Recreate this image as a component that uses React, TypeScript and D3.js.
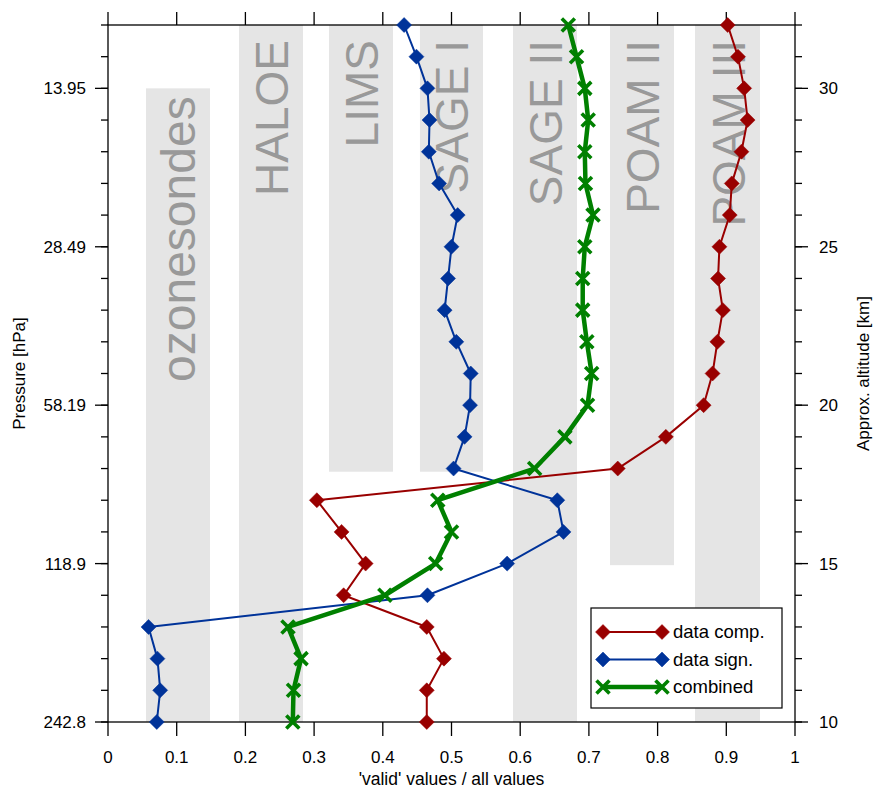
import React from "react";
import * as d3 from "d3";

// Altitude levels [km] and ratio of valid values per level
const altitudes = [32, 31, 30, 29, 28, 27, 26, 25, 24, 23, 22, 21, 20, 19, 18, 17, 16, 15, 14, 13, 12, 11, 10];
const dataComp = [0.902, 0.917, 0.926, 0.931, 0.922, 0.908, 0.905, 0.89, 0.888, 0.895, 0.887, 0.88, 0.867, 0.812, 0.742, 0.304, 0.34, 0.375, 0.343, 0.464, 0.489, 0.464, 0.464];
const dataSign = [0.431, 0.449, 0.465, 0.468, 0.467, 0.482, 0.509, 0.5, 0.495, 0.49, 0.507, 0.528, 0.527, 0.519, 0.503, 0.654, 0.663, 0.581, 0.465, 0.059, 0.072, 0.076, 0.071];
const combined = [0.67, 0.682, 0.694, 0.699, 0.694, 0.695, 0.706, 0.694, 0.691, 0.691, 0.697, 0.704, 0.698, 0.665, 0.621, 0.48, 0.5, 0.477, 0.403, 0.262, 0.281, 0.27, 0.269];

// Instruments: horizontal extent (ratio units) and altitude coverage [km]
const instruments = ["ozonesondes", "HALOE", "LIMS", "SAGE I", "SAGE II", "POAM II", "POAM III"];
const instrumentX0 = [0.0553, 0.1907, 0.3217, 0.4541, 0.5895, 0.7307, 0.8544];
const instrumentX1 = [0.1485, 0.2838, 0.4148, 0.5458, 0.6827, 0.8239, 0.9491];
const instrumentTop = [30, 32, 32, 32, 32, 32, 32];
const instrumentBottom = [10, 10, 17.9, 17.9, 10, 14.95, 10];

// Axis ticks
const altTicks = [10, 15, 20, 25, 30];
const pressureLabels = ["242.8", "118.9", "58.19", "28.49", "13.95"];
const xTicks = [0, 0.1, 0.2, 0.3, 0.4, 0.5, 0.6, 0.7, 0.8, 0.9, 1];
const xTickLabels = ["0", "0.1", "0.2", "0.3", "0.4", "0.5", "0.6", "0.7", "0.8", "0.9", "1"];

const seriesNames = ["data comp.", "data sign.", "combined"];
const seriesColors = ["#990000", "#003399", "#008000"];

const W = 873;
const H = 789;
const left = 108;
const right = 795;
const top = 25;
const bottom = 722;
const FONT = "'Liberation Sans', Arial, Helvetica, sans-serif";

const x = d3.scaleLinear().domain([0, 1]).range([left, right]);
const y = d3.scaleLinear().domain([10, 32]).range([bottom, top]);

function Diamond({ cx, cy, color }: { cx: number; cy: number; color: string }) {
  const r = 7.5;
  return (
    <path
      d={`M${cx},${cy - r}L${cx + r},${cy}L${cx},${cy + r}L${cx - r},${cy}Z`}
      fill={color}
      stroke={color}
      strokeWidth={0.5}
    />
  );
}

function Cross({ cx, cy, color }: { cx: number; cy: number; color: string }) {
  const r = 6.5;
  return (
    <path
      d={`M${cx - r},${cy - r}L${cx + r},${cy + r}M${cx - r},${cy + r}L${cx + r},${cy - r}`}
      stroke={color}
      strokeWidth={3.6}
      fill="none"
    />
  );
}

export default function App() {
  const series = [dataComp, dataSign, combined];
  const line = d3
    .line<number>()
    .x((d) => x(d))
    .y((_, i) => y(altitudes[i]));

  const minorAlt = d3.range(10, 33, 1);

  return (
    <svg
      width={W}
      height={H}
      style={{ position: "absolute", left: 0, top: 0, background: "#fff" }}
      fontFamily={FONT}
    >
      <rect x={0} y={0} width={W} height={H} fill="#fff" />

      {/* instrument coverage bands */}
      {instruments.map((name, i) => (
        <rect
          key={"band" + name}
          x={x(instrumentX0[i])}
          y={y(instrumentTop[i])}
          width={x(instrumentX1[i]) - x(instrumentX0[i])}
          height={y(instrumentBottom[i]) - y(instrumentTop[i])}
          fill="#e5e5e5"
        />
      ))}
      {instruments.map((name, i) => {
        const cx = (x(instrumentX0[i]) + x(instrumentX1[i])) / 2;
        return (
          <text
            key={"lbl" + name}
            transform={`translate(${cx + 17},${y(instrumentTop[i]) + (i === 0 ? 8 : 15)}) rotate(-90)`}
            textAnchor="end"
            fontSize={i === 0 ? 48 : 46}
            fill="#999999"
          >
            {name}
          </text>
        );
      })}

      {/* frame */}
      <rect x={left} y={top} width={right - left} height={bottom - top} fill="none" stroke="#000" strokeWidth={1.3} />

      {/* x ticks, top and bottom */}
      {xTicks.map((t, i) => (
        <g key={"xt" + i}>
          <line x1={x(t)} x2={x(t)} y1={bottom} y2={bottom + 14} stroke="#000" strokeWidth={1.3} />
          <line x1={x(t)} x2={x(t)} y1={top} y2={top - 13} stroke="#000" strokeWidth={1.3} />
          <text x={x(t)} y={bottom + 41} textAnchor="middle" fontSize={17} fill="#000">
            {xTickLabels[i]}
          </text>
        </g>
      ))}

      {/* minor altitude ticks */}
      {minorAlt.map((a) => (
        <g key={"ma" + a}>
          <line x1={left - 7} x2={left} y1={y(a)} y2={y(a)} stroke="#000" strokeWidth={1.3} />
          <line x1={right} x2={right + 7} y1={y(a)} y2={y(a)} stroke="#000" strokeWidth={1.3} />
        </g>
      ))}

      {/* major altitude ticks with pressure and altitude labels */}
      {altTicks.map((a, i) => (
        <g key={"at" + a}>
          <line x1={left - 13} x2={left} y1={y(a)} y2={y(a)} stroke="#000" strokeWidth={1.3} />
          <line x1={right} x2={right + 13} y1={y(a)} y2={y(a)} stroke="#000" strokeWidth={1.3} />
          <text x={left - 22} y={y(a)} dy="0.35em" textAnchor="end" fontSize={17} fill="#000">
            {pressureLabels[i]}
          </text>
          <text x={right + 24} y={y(a)} dy="0.35em" textAnchor="start" fontSize={17} fill="#000">
            {a}
          </text>
        </g>
      ))}

      {/* axis titles */}
      <text x={(left + right) / 2} y={785} textAnchor="middle" fontSize={17.5} fill="#000">
        'valid' values / all values
      </text>
      <text transform={`translate(25,${(top + bottom) / 2}) rotate(-90)`} textAnchor="middle" fontSize={17} fill="#000">
        Pressure [hPa]
      </text>
      <text transform={`translate(869,${(top + bottom) / 2}) rotate(-90)`} textAnchor="middle" fontSize={17} fill="#000">
        Approx. altitude [km]
      </text>

      {/* series lines */}
      {series.map((s, k) => (
        <path
          key={"line" + k}
          d={line(s) || ""}
          fill="none"
          stroke={seriesColors[k]}
          strokeWidth={k === 2 ? 4.5 : 2}
          strokeLinejoin="round"
        />
      ))}
      {series.map((s, k) =>
        s.map((v, i) =>
          k === 2 ? (
            <Cross key={`m${k}-${i}`} cx={x(v)} cy={y(altitudes[i])} color={seriesColors[k]} />
          ) : (
            <Diamond key={`m${k}-${i}`} cx={x(v)} cy={y(altitudes[i])} color={seriesColors[k]} />
          )
        )
      )}

      {/* legend */}
      <g>
        <rect x={591} y={608} width={191} height={100} fill="#fff" stroke="#000" strokeWidth={1.2} />
        {seriesNames.map((name, k) => {
          const ly = 632 + k * 27.5;
          return (
            <g key={"leg" + k}>
              <line x1={603} x2={662} y1={ly} y2={ly} stroke={seriesColors[k]} strokeWidth={k === 2 ? 4.5 : 2} />
              {k === 2 ? (
                <>
                  <Cross cx={603} cy={ly} color={seriesColors[k]} />
                  <Cross cx={662} cy={ly} color={seriesColors[k]} />
                </>
              ) : (
                <>
                  <Diamond cx={603} cy={ly} color={seriesColors[k]} />
                  <Diamond cx={662} cy={ly} color={seriesColors[k]} />
                </>
              )}
              <text x={673} y={ly} dy="0.35em" fontSize={18.5} fill="#000">
                {name}
              </text>
            </g>
          );
        })}
      </g>
    </svg>
  );
}
